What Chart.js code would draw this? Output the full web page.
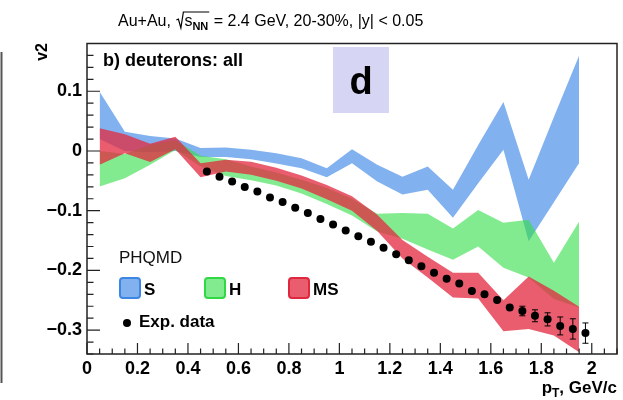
<!DOCTYPE html>
<html>
<head>
<meta charset="utf-8">
<script src="https://cdn.jsdelivr.net/npm/chart.js@4.4.1/dist/chart.umd.min.js"></script>
<style>html,body{margin:0;padding:0;background:#fff}canvas{display:block}</style>
</head>
<body>
<canvas id="v2chart" width="623" height="400"></canvas>
<script>
// PHQMD bands, pT bin centres (GeV/c)
const ptBins = [0.05, 0.15, 0.25, 0.35, 0.45, 0.55, 0.65, 0.75, 0.85, 0.95,
                1.05, 1.15, 1.25, 1.35, 1.45, 1.55, 1.65, 1.75, 1.85, 1.95];
// S
const sHigh  = [0.099, 0.032, 0.025, 0.021, 0.005, 0.006, 0.002, -0.004, -0.012, -0.029,
                0.003, -0.023, -0.043, -0.026, -0.065, 0.010, 0.082, -0.048, 0.057, 0.160];
const sLow   = [0.020, 0.000, -0.002, 0.000, -0.010, -0.010, -0.014, -0.021, -0.029, -0.044,
                -0.0205, -0.051, -0.073, -0.065, -0.112, -0.054, 0.002, -0.151, -0.086, -0.020];
// H
const hHigh  = [0.000, -0.005, 0.0105, 0.018, -0.008, -0.014, -0.026, -0.036, -0.048, -0.062,
                -0.080, -0.105, -0.104, -0.105, -0.130, -0.099, -0.120, -0.115, -0.187, -0.118];
const hLow   = [-0.0595, -0.0455, -0.023, 0.0017, -0.026, -0.042, -0.049, -0.058, -0.071, -0.089,
                -0.108, -0.135, -0.147, -0.165, -0.182, -0.160, -0.1955, -0.212, -0.248, -0.262];
// MS
const msHigh = [0.038, 0.028, 0.012, 0.024, -0.0205, -0.0145, -0.018, -0.028, -0.041, -0.057,
                -0.076, -0.107, -0.149, -0.177, -0.204, -0.204, -0.250, -0.210, -0.234, -0.261];
const msLow  = [-0.023, -0.004, -0.0185, 0.003, -0.044, -0.0345, -0.040, -0.050, -0.063, -0.081,
                -0.100, -0.134, -0.180, -0.212, -0.2455, -0.247, -0.302, -0.298, -0.309, -0.337];

// measured v2 of deuterons
const expPt  = [0.475, 0.525, 0.575, 0.625, 0.675, 0.725, 0.775, 0.825, 0.875, 0.925,
                0.975, 1.025, 1.075, 1.125, 1.175, 1.225, 1.275, 1.325, 1.375, 1.425,
                1.475, 1.525, 1.575, 1.625, 1.675, 1.725, 1.775, 1.825, 1.875, 1.925, 1.975];
const expV2  = [-0.0345, -0.043, -0.051, -0.0605, -0.068, -0.078, -0.0855, -0.095, -0.104, -0.114,
                -0.123, -0.133, -0.143, -0.152, -0.162, -0.173, -0.183, -0.193, -0.204, -0.214,
                -0.222, -0.2345, -0.240, -0.2495, -0.262, -0.268, -0.276, -0.282, -0.293, -0.298, -0.305];
const expErr = [0.002, 0.002, 0.002, 0.002, 0.002, 0.002, 0.002, 0.002, 0.002, 0.002,
                0.002, 0.002, 0.002, 0.002, 0.002, 0.002, 0.002, 0.002, 0.002, 0.002,
                0.002, 0.003, 0.003, 0.004, 0.006, 0.008, 0.010, 0.011, 0.015, 0.017, 0.017];

const xTicks = [0, 0.2, 0.4, 0.6, 0.8, 1, 1.2, 1.4, 1.6, 1.8, 2];
const yTicks = [-0.3, -0.2, -0.1, 0, 0.1];

const FONT = '"Liberation Sans", Arial, Helvetica, sans-serif';

const blueFill  = 'rgba(70,140,232,0.68)';
const greenFill = 'rgba(55,222,75,0.62)';
const redFill   = 'rgba(226,42,64,0.76)';

const pts = (xs, ys) => xs.map((x, i) => ({x: x, y: ys[i]}));

// lower "order" is painted on top
function band(hi, lo, fill, order) {
  return [
    {data: pts(ptBins, hi), fill: '+1', backgroundColor: fill, borderWidth: 0, pointRadius: 0, tension: 0, order: order},
    {data: pts(ptBins, lo), fill: false, borderWidth: 0, pointRadius: 0, tension: 0, order: order}
  ];
}

const fmt = v => {
  const s = String(Math.round(v * 10) / 10);
  return v < 0 ? '\u2212' + s.slice(1) : s;
};

const rootDecor = {
  id: 'rootDecor',
  afterDatasetsDraw(chart) {
    const ctx = chart.ctx, a = chart.chartArea;
    const x = chart.scales.x, y = chart.scales.y;
    // error bars on the measured points
    const meta = chart.getDatasetMeta(6);
    ctx.save();
    ctx.strokeStyle = '#000';
    ctx.lineWidth = 1;
    meta.data.forEach((p, i) => {
      const y1 = y.getPixelForValue(expV2[i] + expErr[i]);
      const y2 = y.getPixelForValue(expV2[i] - expErr[i]);
      if (y2 - y1 < 9) return;
      ctx.beginPath();
      ctx.moveTo(p.x, y1); ctx.lineTo(p.x, y2);
      ctx.moveTo(p.x - 3, y1); ctx.lineTo(p.x + 3, y1);
      ctx.moveTo(p.x - 3, y2); ctx.lineTo(p.x + 3, y2);
      ctx.stroke();
    });
    // frame
    ctx.strokeStyle = '#222';
    ctx.lineWidth = 1.5;
    ctx.strokeRect(a.left, a.top, a.right - a.left, a.bottom - a.top);
    // inner ticks
    ctx.lineWidth = 1.2;
    ctx.beginPath();
    for (let k = 0; k <= 42; k++) {
      const px = x.getPixelForValue(k * 0.05);
      const len = k % 4 === 0 ? 11 : 5.5;
      ctx.moveTo(px, a.bottom); ctx.lineTo(px, a.bottom - len);
    }
    for (let k = -17; k <= 9; k++) {
      const py = y.getPixelForValue(k * 0.02);
      const len = k % 5 === 0 ? 13 : 6.5;
      ctx.moveTo(a.left, py); ctx.lineTo(a.left + len, py);
    }
    ctx.stroke();
    ctx.restore();
  },
  afterDraw(chart) {
    const ctx = chart.ctx;
    ctx.save();
    ctx.fillStyle = '#000';
    ctx.textBaseline = 'alphabetic';

    // neighbouring pad edge
    ctx.strokeStyle = '#555';
    ctx.lineWidth = 2;
    ctx.beginPath(); ctx.moveTo(1.5, 52); ctx.lineTo(1.5, 383); ctx.stroke();

    // title
    let tx = 118;
    const base = 26;
    ctx.font = '16px ' + FONT;
    const t1 = 'Au+Au, ';
    ctx.fillText(t1, tx, base); tx += ctx.measureText(t1).width;
    const rootX = tx;
    tx += 9;
    ctx.fillText('s', tx, base); tx += ctx.measureText('s').width;
    ctx.font = 'bold 11px ' + FONT;
    ctx.fillText('NN', tx, base + 4); tx += ctx.measureText('NN').width + 1;
    ctx.strokeStyle = '#000'; ctx.lineWidth = 1.2;
    ctx.beginPath();
    ctx.moveTo(rootX + 1, base - 6); ctx.lineTo(rootX + 3, base - 7);
    ctx.lineTo(rootX + 5.5, base + 2); ctx.lineTo(rootX + 8, base - 14);
    ctx.lineTo(tx, base - 14);
    ctx.stroke();
    ctx.font = '16px ' + FONT;
    ctx.fillText(' = 2.4 GeV, 20-30%, |y| < 0.05', tx, base);

    // axis titles
    ctx.font = 'bold 16px ' + FONT;
    ctx.save();
    ctx.translate(47, 43);
    ctx.rotate(-Math.PI / 2);
    ctx.textAlign = 'right';
    ctx.fillText('v2', 0, 0);
    ctx.restore();

    ctx.font = 'bold 17px ' + FONT;
    const wP = ctx.measureText('p').width;
    ctx.font = 'bold 12px ' + FONT;
    const wT = ctx.measureText('T').width;
    ctx.font = 'bold 17px ' + FONT;
    const rest = ', GeV/c';
    const wR = ctx.measureText(rest).width;
    let px = 617 - wP - wT - wR;
    ctx.fillText('p', px, 393); px += wP;
    ctx.font = 'bold 12px ' + FONT;
    ctx.fillText('T', px, 397); px += wT;
    ctx.font = 'bold 17px ' + FONT;
    ctx.fillText(rest, px, 393);

    // panel label
    ctx.font = 'bold 18px ' + FONT;
    ctx.fillText('b) deuterons: all', 103, 66);

    // particle tag
    ctx.fillStyle = '#d6d6f4';
    ctx.fillRect(333, 47, 56, 66);
    ctx.fillStyle = '#000';
    ctx.font = 'bold 38px ' + FONT;
    ctx.textAlign = 'center';
    ctx.fillText('d', 361, 94);
    ctx.textAlign = 'left';

    // legend
    ctx.font = '17px ' + FONT;
    ctx.fillStyle = '#111';
    ctx.fillText('PHQMD', 119, 263);
    const boxes = [
      {x: 119, fill: blueFill, line: 'rgb(60,135,228)', label: 'S', lx: 144},
      {x: 204, fill: greenFill, line: 'rgb(50,215,70)', label: 'H', lx: 229},
      {x: 288, fill: redFill, line: 'rgb(222,40,62)', label: 'MS', lx: 313}
    ];
    boxes.forEach(b => {
      ctx.beginPath();
      ctx.roundRect(b.x + 1, 278, 20, 20, 3);
      ctx.fillStyle = b.fill;
      ctx.fill();
      ctx.strokeStyle = b.line;
      ctx.lineWidth = 2;
      ctx.stroke();
      ctx.fillStyle = '#000';
      ctx.font = 'bold 17px ' + FONT;
      ctx.fillText(b.label, b.lx, 295);
    });
    ctx.beginPath();
    ctx.arc(127, 323, 4, 0, Math.PI * 2);
    ctx.fill();
    ctx.fillText('Exp. data', 139, 327);
    ctx.restore();
  }
};

new Chart(document.getElementById('v2chart'), {
  type: 'line',
  data: {
    datasets: [
      ...band(sHigh, sLow, blueFill, 3),
      ...band(hHigh, hLow, greenFill, 2),
      ...band(msHigh, msLow, redFill, 1),
      {
        type: 'scatter',
        data: pts(expPt, expV2),
        backgroundColor: '#000',
        borderWidth: 0,
        pointRadius: 4,
        showLine: false,
        order: 0
      }
    ]
  },
  options: {
    responsive: false,
    animation: false,
    layout: {padding: {top: 43.5, right: 6, left: 0, bottom: 0}},
    plugins: {legend: {display: false}, tooltip: {enabled: false}},
    scales: {
      x: {
        type: 'linear', min: 0, max: 2.1,
        afterFit(s) { s.height = 46; },
        afterBuildTicks(s) { s.ticks = xTicks.map(v => ({value: v})); },
        grid: {display: false, drawTicks: false},
        border: {display: false},
        ticks: {autoSkip: false, maxRotation: 0, padding: 4, color: '#000',
                font: {family: FONT, size: 18, weight: 'bold'}, callback: v => fmt(v)}
      },
      y: {
        type: 'linear', min: -0.34, max: 0.18,
        afterFit(s) { s.width = 87; },
        afterBuildTicks(s) { s.ticks = yTicks.map(v => ({value: v})); },
        grid: {display: false, drawTicks: false},
        border: {display: false},
        ticks: {padding: 5, color: '#000',
                font: {family: FONT, size: 18, weight: 'bold'}, callback: v => fmt(v)}
      }
    }
  },
  plugins: [rootDecor]
});
</script>
</body>
</html>
